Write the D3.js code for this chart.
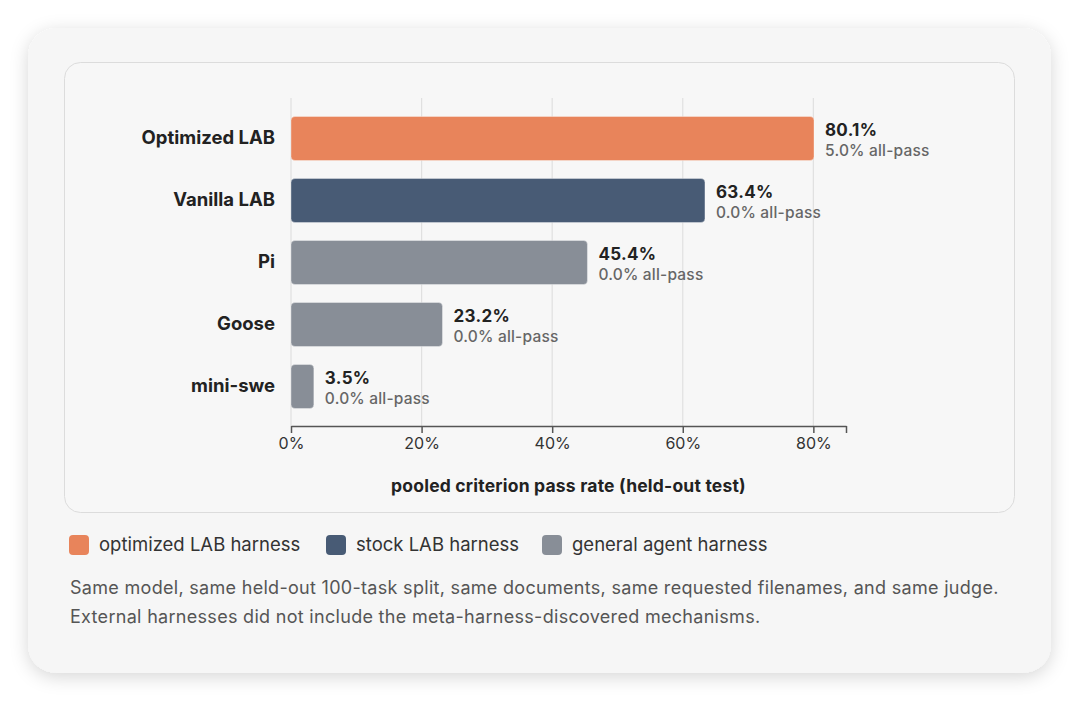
<!DOCTYPE html>
<html>
<head>
<meta charset="utf-8">
<script src="https://cdn.jsdelivr.net/npm/d3@7"></script>
<style>
  html, body { margin: 0; padding: 0; background: #ffffff; }
  svg { display: block; font-family: Inter, "Noto Sans", sans-serif; }
</style>
</head>
<body>
<svg id="chart" width="1080" height="703"></svg>
<script>
// data
var harnesses = ["Optimized LAB", "Vanilla LAB", "Pi", "Goose", "mini-swe"];
var passRate = [80.1, 63.4, 45.4, 23.2, 3.5];
var allPass = [5.0, 0.0, 0.0, 0.0, 0.0];
var harnessType = ["optimized", "stock", "general", "general", "general"];
var xTicks = [0, 20, 40, 60, 80];
var legendKeys = ["optimized", "stock", "general"];
var legendLabels = ["optimized LAB harness", "stock LAB harness", "general agent harness"];
var typeColors = ["#e8845b", "#485b75", "#888e97"];
var axisTitle = "pooled criterion pass rate (held-out test)";
var notes = [
    "Same model, same held-out 100-task split, same documents, same requested filenames, and same judge.",
    "External harnesses did not include the meta-harness-discovered mechanisms."
];

var svg = d3.select("#chart");

// card with shadow
var defs = svg.append("defs");
var f = defs.append("filter").attr("id", "shadow")
    .attr("x", "-10%").attr("y", "-10%").attr("width", "120%").attr("height", "125%");
f.append("feDropShadow").attr("dx", 0).attr("dy", 4).attr("stdDeviation", 9)
    .attr("flood-color", "#000").attr("flood-opacity", 0.16);

svg.append("rect")
    .attr("x", 28).attr("y", 28).attr("width", 1023).attr("height", 645)
    .attr("rx", 28).attr("fill", "#f6f6f6").attr("filter", "url(#shadow)");

// inner panel
svg.append("rect")
    .attr("x", 64.5).attr("y", 62.5).attr("width", 950).attr("height", 450)
    .attr("rx", 16).attr("fill", "#f7f7f7").attr("stroke", "#dcdcdc");

var color = d3.scaleOrdinal().domain(legendKeys).range(typeColors);

var x = d3.scaleLinear().domain([0, 85]).range([291, 846]);
var y = d3.scaleBand().domain(harnesses).range([98, 426]).paddingInner(0.29).paddingOuter(0.29);

// grid
svg.append("g").selectAll("line")
    .data(xTicks)
    .enter()
    .append("line")
    .attr("x1", function (d) { return x(d); })
    .attr("x2", function (d) { return x(d); })
    .attr("y1", 98).attr("y2", 426)
    .attr("stroke", "#e0e0e0").attr("stroke-width", 1.2);

// bars
var rows = harnesses.map(function (h, i) {
    return { name: h, value: passRate[i], all: allPass[i], type: harnessType[i] };
});

svg.append("g").selectAll("rect")
    .data(rows)
    .enter()
    .append("rect")
    .attr("x", x(0))
    .attr("y", function (d) { return y(d.name) + 0.5; })
    .attr("width", function (d) { return x(d.value) - x(0); })
    .attr("height", y.bandwidth())
    .attr("rx", 4)
    .attr("fill", function (d) { return color(d.type); })
    .attr("stroke", "rgba(255,255,255,0.35)")
    .attr("stroke-width", 1);

// value labels
var lab = svg.append("g").selectAll("g")
    .data(rows)
    .enter()
    .append("g")
    .attr("transform", function (d) {
        return "translate(" + (x(d.value) + 11) + "," + (y(d.name) + y.bandwidth() / 2) + ")";
    });
lab.append("text")
    .attr("y", -2)
    .attr("font-size", 17).attr("font-weight", 700).attr("fill", "#222")
    .attr("letter-spacing", 0.3)
    .text(function (d) { return d.value.toFixed(1) + "%"; });
lab.append("text")
    .attr("y", 18)
    .attr("font-size", 15.5).attr("font-weight", 500).attr("fill", "#666")
    .attr("letter-spacing", 0.2)
    .text(function (d) { return d.all.toFixed(1) + "% all-pass"; });

// category labels
svg.append("g").selectAll("text")
    .data(rows)
    .enter()
    .append("text")
    .attr("x", 275)
    .attr("y", function (d) { return y(d.name) + y.bandwidth() / 2; })
    .attr("dy", "0.35em")
    .attr("text-anchor", "end")
    .attr("font-size", 18.5).attr("font-weight", 700).attr("fill", "#222")
    .text(function (d) { return d.name; });

// x axis
var xAxis = svg.append("g")
    .attr("transform", "translate(0,426)")
    .call(d3.axisBottom(x).tickValues(xTicks.concat([85])).tickSize(7).tickSizeOuter(0)
        .tickFormat(function (d) { return xTicks.indexOf(d) >= 0 ? d + "%" : ""; }));
xAxis.select(".domain").attr("stroke", "#555").attr("stroke-width", 1.5);
xAxis.selectAll(".tick line").attr("stroke", "#555").attr("stroke-width", 1.5);
xAxis.selectAll(".tick text")
    .attr("y", 12)
    .attr("font-family", "Inter, sans-serif")
    .attr("font-size", 16).attr("fill", "#333");

svg.append("text")
    .attr("x", (x(0) + x(85)) / 2).attr("y", 492)
    .attr("text-anchor", "middle")
    .attr("font-size", 17.5).attr("font-weight", 700).attr("fill", "#222")
    .attr("letter-spacing", 0.2)
    .text(axisTitle);

// legend
var legendX = [69, 326, 542];
var lg = svg.append("g").selectAll("g")
    .data(legendKeys)
    .enter()
    .append("g")
    .attr("transform", function (d, i) { return "translate(" + legendX[i] + ",535)"; });
lg.append("rect")
    .attr("width", 20).attr("height", 20).attr("rx", 4)
    .attr("fill", function (d) { return color(d); });
lg.append("text")
    .attr("x", 30).attr("y", 10).attr("dy", "0.35em")
    .attr("font-size", 18.5).attr("fill", "#333")
    .text(function (d, i) { return legendLabels[i]; });

// footnote
svg.append("g").selectAll("text")
    .data(notes)
    .enter()
    .append("text")
    .attr("x", 70)
    .attr("y", function (d, i) { return 594 + i * 29; })
    .attr("font-size", 18).attr("fill", "#555")
    .attr("letter-spacing", 0.3)
    .text(function (d) { return d; });
</script>
</body>
</html>
